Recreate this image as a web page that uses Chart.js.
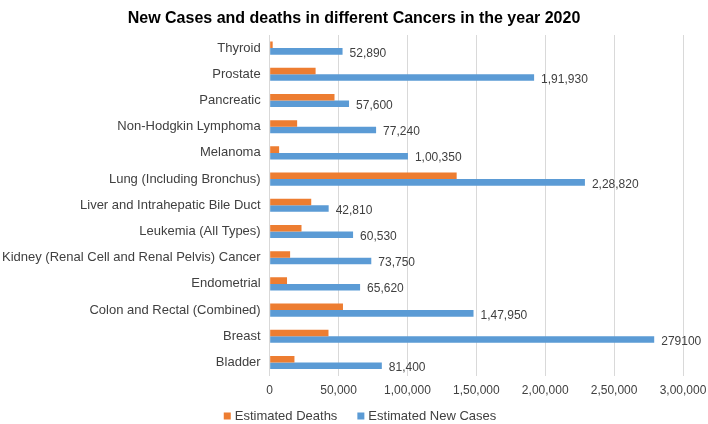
<!DOCTYPE html>
<html>
<head>
<meta charset="utf-8">
<script src="https://cdn.jsdelivr.net/npm/chart.js@4.4.1/dist/chart.umd.min.js"></script>
<style>
  html, body { margin: 0; padding: 0; background: #fff; }
  #wrap { width: 708px; height: 424px; }
</style>
</head>
<body>
<div id="wrap"><canvas id="cancerChart"></canvas></div>
<script>
const cancers = [
    'Thyroid', 'Prostate', 'Pancreatic', 'Non-Hodgkin Lymphoma', 'Melanoma',
    'Lung (Including Bronchus)', 'Liver and Intrahepatic Bile Duct', 'Leukemia (All Types)',
    'Kidney (Renal Cell and Renal Pelvis) Cancer', 'Endometrial', 'Colon and Rectal (Combined)',
    'Breast', 'Bladder'
];
const estimatedDeaths = [2180, 33330, 47050, 19940, 6850, 135720, 30160, 23100, 14830, 12590, 53200, 42690, 17980];
const estimatedNewCases = [52890, 191930, 57600, 77240, 100350, 228820, 42810, 60530, 73750, 65620, 147950, 279100, 81400];
const newCaseLabels = ['52,890', '1,91,930', '57,600', '77,240', '1,00,350', '2,28,820', '42,810',
    '60,530', '73,750', '65,620', '1,47,950', '279100', '81,400'];
const xTicks = [0, 50000, 100000, 150000, 200000, 250000, 300000];
const chartTitle = 'New Cases and deaths in different Cancers in the year 2020';

const textColor = '#404040';
const fontFamily = '"Liberation Sans", Arial, sans-serif';

// Indian digit grouping, e.g. 150000 -> 1,50,000
function indianFormat(n) {
    let s = String(Math.round(n));
    if (s.length <= 3) return s;
    let last3 = s.slice(-3);
    let rest = s.slice(0, -3);
    rest = rest.replace(/\B(?=(\d{2})+(?!\d))/g, ',');
    return rest + ',' + last3;
}

// labels printed to the right of the blue bars
const barLabels = {
    id: 'barLabels',
    afterDatasetsDraw(chart) {
        const ctx = chart.ctx;
        const meta = chart.getDatasetMeta(1);
        ctx.save();
        ctx.font = '12px ' + fontFamily;
        ctx.fillStyle = textColor;
        ctx.textAlign = 'left';
        ctx.textBaseline = 'middle';
        meta.data.forEach((bar, i) => {
            ctx.fillText(newCaseLabels[i], bar.x + 7, bar.y + 2);
        });
        ctx.restore();
    }
};

// title centred on the whole canvas, plus an Excel-style legend underneath
const titleAndLegend = {
    id: 'titleAndLegend',
    afterDraw(chart) {
        const ctx = chart.ctx;
        ctx.save();
        ctx.font = 'bold 16px ' + fontFamily;
        ctx.fillStyle = '#000';
        ctx.textAlign = 'center';
        ctx.textBaseline = 'middle';
        ctx.fillText(chartTitle, chart.width / 2, 19);

        ctx.font = '13px ' + fontFamily;
        ctx.textAlign = 'left';
        const box = 7, gap = 4, itemGap = 20;
        const items = chart.data.datasets.map(ds => ({
            text: ds.label,
            color: ds.backgroundColor,
            w: box + gap + ctx.measureText(ds.label).width
        }));
        const total = items.reduce((acc, it) => acc + it.w, 0) + itemGap * (items.length - 1);
        let x = chart.width / 2 + 6 - total / 2;
        const y = 416;
        items.forEach(it => {
            ctx.fillStyle = it.color;
            ctx.fillRect(x, y - box / 2, box, box);
            ctx.fillStyle = textColor;
            ctx.fillText(it.text, x + box + gap, y);
            x += it.w + itemGap;
        });
        ctx.restore();
    }
};

Chart.defaults.font.family = fontFamily;
Chart.defaults.font.size = 12;
Chart.defaults.color = textColor;

const ctx = document.getElementById('cancerChart').getContext('2d');
const cancerChart = new Chart(ctx, {
    type: 'bar',
    data: {
        labels: cancers,
        datasets: [{
            label: 'Estimated Deaths',
            data: estimatedDeaths,
            backgroundColor: '#ED7D31',
            categoryPercentage: 0.5,
            barPercentage: 1.0
        }, {
            label: 'Estimated New Cases',
            data: estimatedNewCases,
            backgroundColor: '#5B9BD5',
            categoryPercentage: 0.5,
            barPercentage: 1.0
        }]
    },
    options: {
        indexAxis: 'y',
        responsive: true,
        maintainAspectRatio: false,
        animation: false,
        layout: { padding: { left: -7, right: 4, top: 35, bottom: 18 } },
        plugins: {
            title: { display: false },
            legend: { display: false },
            tooltip: { enabled: false }
        },
        scales: {
            x: {
                min: 0,
                max: 300000,
                afterBuildTicks(axis) {
                    axis.ticks = xTicks.map(v => ({ value: v }));
                },
                afterFit(axis) {
                    // let the last tick label hang closer to the canvas edge
                    axis.paddingRight = 25;
                },
                ticks: {
                    callback: v => indianFormat(v),
                    padding: 8,
                    maxRotation: 0
                },
                grid: { color: '#d9d9d9', drawTicks: false },
                border: { display: false }
            },
            y: {
                grid: { display: false, drawTicks: false },
                border: { display: false },
                ticks: { padding: 9, autoSkip: false, font: { size: 13 } }
            }
        }
    },
    plugins: [barLabels, titleAndLegend]
});
</script>
</body>
</html>
